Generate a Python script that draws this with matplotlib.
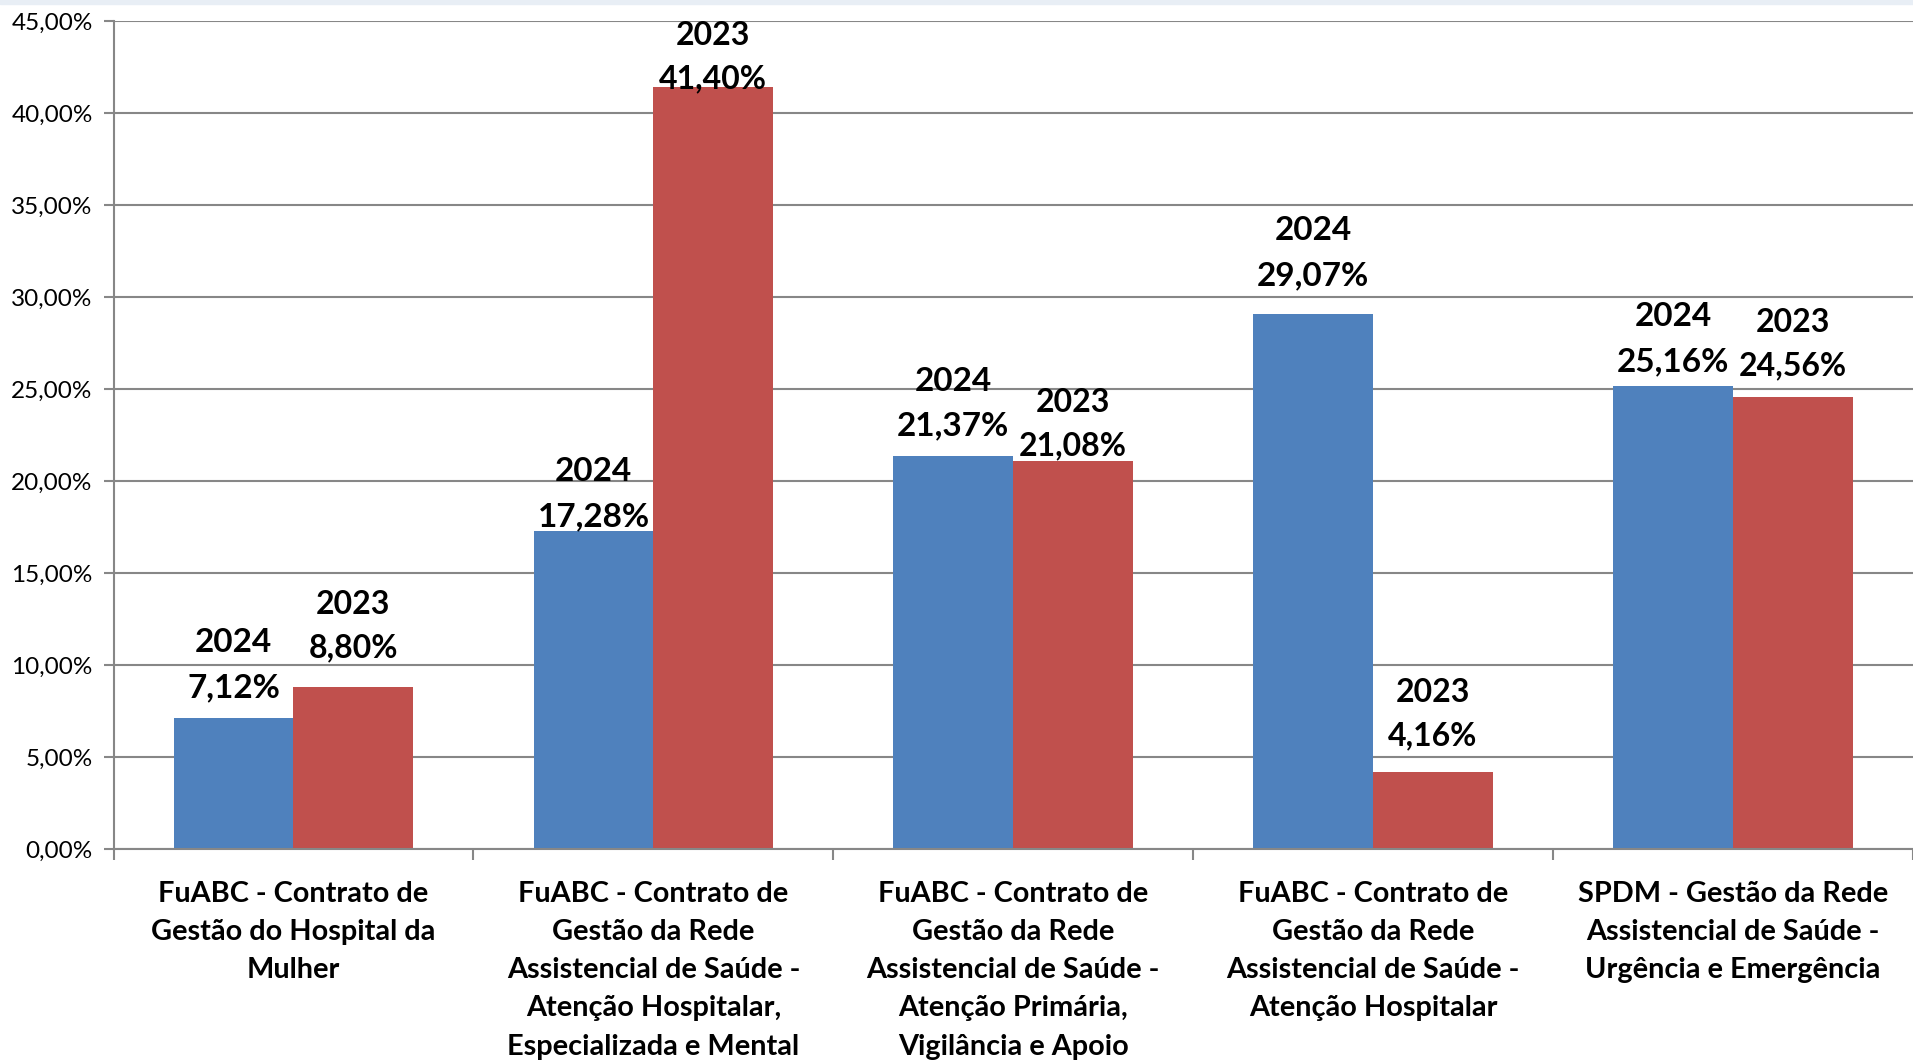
import numpy as np
import matplotlib.pyplot as plt
from matplotlib.patches import Rectangle

# dados
categorias = [
    "FuABC - Contrato de\nGestão do Hospital da\nMulher",
    "FuABC - Contrato de\nGestão da Rede\nAssistencial de Saúde -\nAtenção Hospitalar,\nEspecializada e Mental",
    "FuABC - Contrato de\nGestão da Rede\nAssistencial de Saúde -\nAtenção Primária,\nVigilância e Apoio",
    "FuABC - Contrato de\nGestão da Rede\nAssistencial de Saúde -\nAtenção Hospitalar",
    "SPDM - Gestão da Rede\nAssistencial de Saúde -\nUrgência e Emergência",
]
anos = ["2024", "2023"]
valores_2024 = [7.12, 17.28, 21.37, 29.07, 25.16]
valores_2023 = [8.80, 41.40, 21.08, 4.16, 24.56]
yticks = [0, 5, 10, 15, 20, 25, 30, 35, 40, 45]

# espaco (px) entre o topo da barra e o rotulo, como no original
gap_2024 = [16, 0, 15, 24, 10]
gap_2023 = [25, -6, 1, 22, 17]

plt.rcParams['font.family'] = ['Lato', 'DejaVu Sans']

W, H = 1913, 1063
fig = plt.figure(figsize=(W / 100, H / 100), dpi=100)
fig.patches.append(Rectangle((0, 1 - 4 / H), 1, 4 / H, transform=fig.transFigure,
                             color='#e8eef5', zorder=0))

x0, y0 = 113.5 / W, (H - 849) / H
ax = fig.add_axes([x0, y0, 1 - x0, 828 / H])

x = np.arange(len(categorias))
w = 0.333
azul, vermelho = '#4f81bd', '#c0504d'
cinza = '#878787'

b1 = ax.bar(x - w / 2, valores_2024, w, color=azul, zorder=2)
b2 = ax.bar(x + w / 2, valores_2023, w, color=vermelho, zorder=2)

ax.set_xlim(-0.5, 4.5)
ax.set_ylim(0, 45)
ax.set_yticks(yticks)
ax.set_yticklabels([f"{v:.2f}%".replace('.', ',') for v in yticks], fontsize=17.5)
ax.yaxis.grid(True, color=cinza, linewidth=1.5, zorder=0)
ax.set_axisbelow(True)

ax.set_xticks(np.arange(len(categorias) + 1) - 0.5)
ax.set_xticklabels([])
ax.set_xticks(x, minor=True)
ax.set_xticklabels(categorias, minor=True, fontsize=20.8, fontweight='bold',
                   linespacing=1.58)
ax.tick_params(axis='x', which='major', length=8, width=1.5, color=cinza, direction='out')
ax.tick_params(axis='x', which='minor', length=0, pad=23)
ax.tick_params(axis='y', length=7, width=1.5, color=cinza, pad=8)

for s in ['top', 'right']:
    ax.spines[s].set_visible(False)
for s in ['left', 'bottom']:
    ax.spines[s].set_color(cinza)
    ax.spines[s].set_linewidth(1.5)

px2pt = 72 / 100
for bars, vals, ano, gaps, fs, ls in [(b1, valores_2024, anos[0], gap_2024, 24, 1.67),
                                      (b2, valores_2023, anos[1], gap_2023, 23, 1.6)]:
    for b, v, g in zip(bars, vals, gaps):
        ax.annotate(f"{ano}\n{v:.2f}%".replace('.', ','),
                    (b.get_x() + b.get_width() / 2, v),
                    xytext=(0, g * px2pt), textcoords='offset points',
                    ha='center', va='bottom', fontsize=fs, fontweight='bold',
                    linespacing=ls, annotation_clip=False, zorder=3)

fig.savefig('out.png', dpi=100)
